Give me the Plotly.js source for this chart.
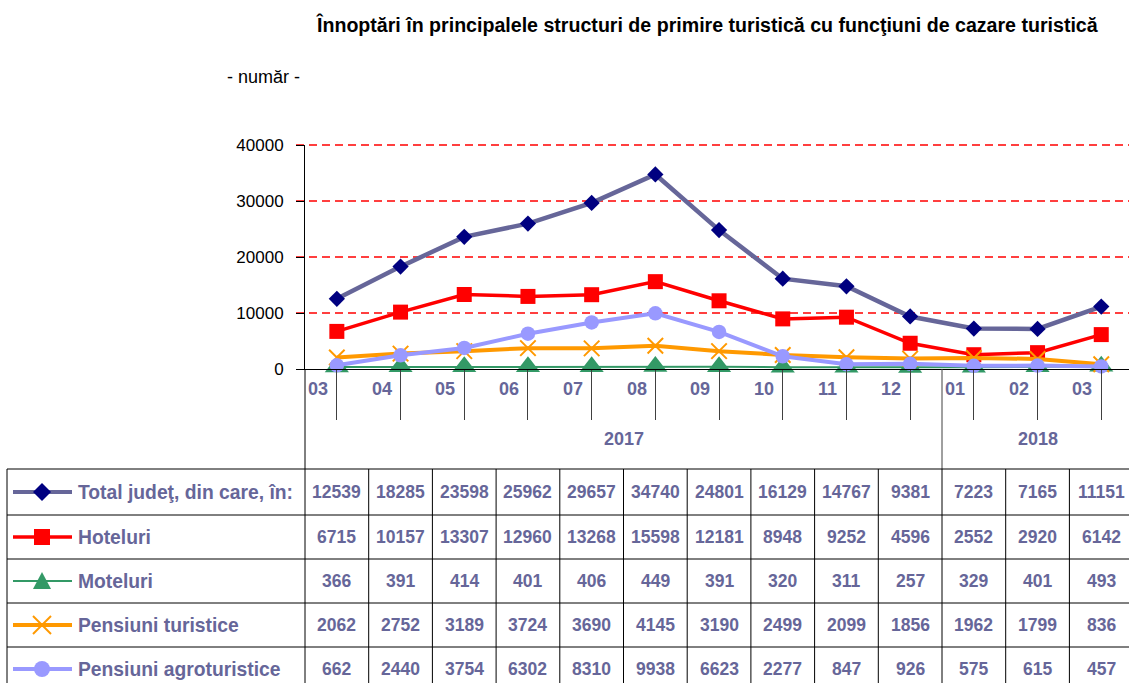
<!DOCTYPE html>
<html><head><meta charset="utf-8">
<script src="https://cdn.plot.ly/plotly-3.0.1.min.js"></script>
<style>html,body{margin:0;padding:0;background:#fff;overflow:hidden}#chart{width:1129px;height:683px}</style>
</head><body><div id="chart"></div>
<script>
const months = ['03','04','05','06','07','08','09','10','11','12','01','02','03'];
const yearLabels = ['2017','2018'];
const yearMonthCounts = [10,3];
const seriesNames = ['Total judeţ, din care, în:','Hoteluri','Moteluri','Pensiuni turistice','Pensiuni agroturistice'];
const total = [12539,18285,23598,25962,29657,34740,24801,16129,14767,9381,7223,7165,11151];
const hoteluri = [6715,10157,13307,12960,13268,15598,12181,8948,9252,4596,2552,2920,6142];
const moteluri = [366,391,414,401,406,449,391,320,311,257,329,401,493];
const pensiuniTuristice = [2062,2752,3189,3724,3690,4145,3190,2499,2099,1856,1962,1799,836];
const pensiuniAgroturistice = [662,2440,3754,6302,8310,9938,6623,2277,847,926,575,615,457];
const yTicks = [0,10000,20000,30000,40000];
const yMax = 40000;

const W = 1129, H = 683;
const px = x => x / W;
const py = y => (H - y) / H;
const TXT = '#666699';
const SANS = '"Liberation Sans", Arial, sans-serif';
const plotBottom = 369, plotTop = 145;
const valToPaper = v => py(plotBottom) + (v / yMax) * (py(plotTop) - py(plotBottom));

const xIdx = months.map((m, i) => i);
const allSeries = [total, hoteluri, moteluri, pensiuniTuristice, pensiuniAgroturistice];
const styles = [
  {line:{color:'#666699', width:4.5}, marker:{symbol:'diamond', size:12.5, color:'#000080'}},
  {line:{color:'#FF0000', width:3.5}, marker:{symbol:'square', size:15, color:'#FF0000'}},
  {line:{color:'#339966', width:2}, marker:{symbol:'triangle-up', size:21, color:'#339966'}},
  {line:{color:'#FF9900', width:4}, marker:{symbol:'x-thin-open', size:15.5, color:'#FF9900', line:{color:'#FF9900', width:2}}},
  {line:{color:'#9999FF', width:4}, marker:{symbol:'circle', size:14.5, color:'#9999FF'}}
];

const traces = allSeries.map((vals, s) => ({
  type:'scatter', mode:'lines+markers', x:xIdx, y:vals, name:seriesNames[s],
  line:styles[s].line, marker:styles[s].marker, cliponaxis:false, hoverinfo:'y'
}));

const annotations = [];
const shapes = [];

// dashed red gridlines at the y tick values
yTicks.filter(v => v > 0).forEach(v => shapes.push({type:'line', xref:'paper', yref:'paper', x0:px(296), x1:1, y0:valToPaper(v), y1:valToPaper(v),
  line:{color:'#FF0000', width:1.6, dash:'8px,5px'}, layer:'below'}));

// title and unit
annotations.push({xref:'paper', yref:'paper', x:px(707), y:py(24), text:'<b>Înnoptări în principalele structuri de primire turistică cu funcţiuni de cazare turistică</b>',
  showarrow:false, xanchor:'center', yanchor:'middle', font:{family:SANS, size:19.6, color:'#000'}});
annotations.push({xref:'paper', yref:'paper', x:px(225), y:py(77), text:'- număr -',
  showarrow:false, xanchor:'left', yanchor:'middle', font:{family:SANS, size:18, color:'#000'}});

// month labels
months.forEach((m, i) => annotations.push({xref:'x', yref:'paper', x:i - 0.5, y:py(389), text:'<b>' + m + '</b>',
  showarrow:false, xanchor:'left', yanchor:'middle', xshift:1, font:{family:SANS, size:18, color:TXT}}));

// year labels
let start = 0;
yearLabels.forEach((yl, k) => {
  const n = yearMonthCounts[k];
  const centre = start - 0.5 + n / 2;
  annotations.push({xref:'x', yref:'paper', x:centre, y:py(439), text:'<b>' + yl + '</b>',
    showarrow:false, xanchor:'center', yanchor:'middle', font:{family:SANS, size:18, color:TXT}});
  if (k > 0) shapes.push({type:'line', xref:'x', yref:'paper', x0:start - 0.5, x1:start - 0.5, y0:py(369), y1:py(469), line:{color:'#404040', width:1}});
  start += n;
});

// data table
const rowTop = [469, 515, 559, 603, 647, 691];
rowTop.slice(0, 5).forEach(y => shapes.push({type:'line', xref:'paper', yref:'paper', x0:px(7), x1:1, y0:py(y), y1:py(y), line:{color:'#000', width:1}}));
shapes.push({type:'line', xref:'paper', yref:'paper', x0:px(7), x1:px(7), y0:py(469), y1:0, line:{color:'#000', width:1}});
shapes.push({type:'line', xref:'paper', yref:'paper', x0:px(305), x1:px(305), y0:py(369), y1:0, line:{color:'#000', width:1}});
for (let i = 1; i < months.length; i++) {
  shapes.push({type:'line', xref:'x', yref:'paper', x0:i - 0.5, x1:i - 0.5, y0:py(469), y1:0, line:{color:'#000', width:1}});
}

allSeries.forEach((vals, s) => {
  const yc = (rowTop[s] + rowTop[s + 1]) / 2;
  annotations.push({xref:'paper', yref:'paper', x:px(76), y:py(yc), text:'<b>' + seriesNames[s] + '</b>',
    showarrow:false, xanchor:'left', yanchor:'middle', font:{family:SANS, size:19.3, color:TXT}});
  vals.forEach((v, i) => annotations.push({xref:'x', yref:'paper', x:i, y:py(yc), text:'<b>' + v + '</b>',
    showarrow:false, xanchor:'center', yanchor:'middle', font:{family:SANS, size:17.5, color:TXT}}));
  // legend key: line + marker
  const st = styles[s];
  shapes.push({type:'line', xref:'paper', yref:'paper', x0:px(13), x1:px(72), y0:py(yc), y1:py(yc), line:{color:st.line.color, width:Math.min(st.line.width, 4)}});
  const cx = 42;
  let path = null;
  if (s === 0) path = `M${px(cx-9)},${py(yc)} L${px(cx)},${py(yc-9)} L${px(cx+9)},${py(yc)} L${px(cx)},${py(yc+9)} Z`;
  if (s === 1) path = `M${px(cx-8)},${py(yc-8)} L${px(cx+8)},${py(yc-8)} L${px(cx+8)},${py(yc+8)} L${px(cx-8)},${py(yc+8)} Z`;
  if (s === 2) path = `M${px(cx-9)},${py(yc+8)} L${px(cx)},${py(yc-9)} L${px(cx+9)},${py(yc+8)} Z`;
  if (path) shapes.push({type:'path', xref:'paper', yref:'paper', path:path, fillcolor:st.marker.color, line:{width:0}});
  if (s === 3) {
    shapes.push({type:'line', xref:'paper', yref:'paper', x0:px(cx-9), x1:px(cx+9), y0:py(yc-9), y1:py(yc+9), line:{color:'#FF9900', width:2}});
    shapes.push({type:'line', xref:'paper', yref:'paper', x0:px(cx-9), x1:px(cx+9), y0:py(yc+9), y1:py(yc-9), line:{color:'#FF9900', width:2}});
  }
  if (s === 4) shapes.push({type:'circle', xref:'paper', yref:'paper', x0:px(cx-8), x1:px(cx+8), y0:py(yc-8), y1:py(yc+8), fillcolor:st.marker.color, line:{width:0}});
});

const layout = {
  width:W, height:H, margin:{l:0, r:0, t:0, b:0}, paper_bgcolor:'#fff', plot_bgcolor:'#fff', showlegend:false,
  xaxis:{domain:[px(305), 1], range:[-0.5, -0.5 + (W - 305) / 63.7], showgrid:false, zeroline:false, showline:true, linecolor:'#000', linewidth:1,
    ticks:'outside', tickson:'boundaries', tickmode:'array', tickvals:xIdx, ticktext:months, showticklabels:false, ticklen:50, tickcolor:'#404040', tickwidth:1, fixedrange:true},
  yaxis:{domain:[py(plotBottom), py(plotTop)], range:[0, yMax], tickmode:'array', tickvals:yTicks, ticktext:yTicks.map(String), showgrid:false,
    zeroline:false, showline:true, linecolor:'#000', linewidth:1, ticks:'outside', ticklen:8, tickcolor:'#000',
    tickfont:{family:SANS, size:17, color:'#000'}, ticklabelstandoff:9, fixedrange:true},
  annotations:annotations, shapes:shapes
};
Plotly.newPlot('chart', traces, layout, {displayModeBar:false, staticPlot:true});
</script></body></html>
